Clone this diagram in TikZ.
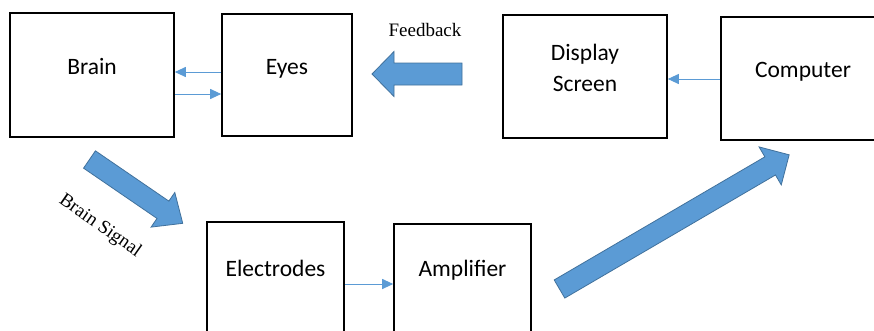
\documentclass[tikz,border=0pt]{standalone}
\usepackage{fontspec}
\setmainfont{Carlito}
\newfontfamily\serifont{Liberation Serif}
\usetikzlibrary{arrows.meta}
\definecolor{ablue}{HTML}{5B9BD5}
\definecolor{aedge}{HTML}{41719C}
\tikzset{
  box/.style={draw=black, line width=1.6pt, minimum width=#1, inner sep=0pt},
  lbl/.style={anchor=base, font=\fontsize{23.5}{28}\selectfont, inner sep=0pt},
  serlbl/.style={anchor=base, font=\serifont\fontsize{19}{23}\selectfont, inner sep=0pt},
  thin arrow/.style={draw=ablue, line width=1pt, -{Triangle[length=11pt,width=10pt]}},
  blk/.style={fill=ablue, draw=aedge, line width=0.8pt, line join=miter}
}
\newcommand\myblockarrow[7]{%
  \begin{scope}[shift={(#1,#2)},rotate=#3]
    \draw[blk] (0,{-#5/2}) -- ({#4-#7},{-#5/2}) -- ({#4-#7},{-#6/2}) -- (#4,0)
      -- ({#4-#7},{#6/2}) -- ({#4-#7},{#5/2}) -- (0,{#5/2}) -- cycle;
  \end{scope}}
\begin{document}
\begin{tikzpicture}[x=1pt,y=-1pt]
\path[use as bounding box] (0,0) rectangle (874,330);
\clip (0,0) rectangle (874,330);
% boxes
\node[box=164pt, minimum height=124pt] (brain) at (92,75) {};
\node[box=130pt, minimum height=122pt] (eyes) at (287,75) {};
\node[box=164pt, minimum height=123pt] (display) at (585,76.5) {};
\node[box=164pt, minimum height=123pt] (computer) at (803,78.5) {};
\node[box=137pt, minimum height=123pt] (electrodes) at (275.5,283.5) {};
\node[box=137pt, minimum height=123pt] (amplifier) at (462.5,285.5) {};
% labels
\node[lbl] (brainl) at (92,74) {Brain};
\node[lbl] (eyesl) at (287,74) {Eyes};
\node[lbl] (displayl) at (585,60) {Display};
\node[lbl] (screenl) at (585,91) {Screen};
\node[lbl] (computerl) at (803,77) {Computer};
\node[lbl] (electrodesl) at (275.5,276) {Electrodes};
\node[lbl] (amplifierl) at (462.5,276.5) {Amplifier};
\node[serlbl] (feedbackl) at (425,36) {Feedback};
\node[font=\serifont\fontsize{19}{23}\selectfont, inner sep=0pt, rotate=-35] (signall) at (100,226) {Brain Signal};
% thin connectors
\draw[thin arrow] ([yshift=3pt]eyes.west) -- ([yshift=3pt]eyes.west -| brain.east);
\draw[thin arrow] ([yshift=-19pt]brain.east) -- ([yshift=-19pt]brain.east -| eyes.west);
\draw[thin arrow] (computer.west |- 0,79) -- (display.east |- 0,79);
\draw[thin arrow] (electrodes.east |- 0,284) -- (amplifier.west |- 0,284);
% block arrows
\myblockarrow{462}{74}{180}{90}{22}{45}{22}
\myblockarrow{89.5}{159.5}{-34.4}{113}{21}{42}{24}
\myblockarrow{559.5}{289}{30.3}{266}{21}{44}{22}
\end{tikzpicture}
\end{document}
